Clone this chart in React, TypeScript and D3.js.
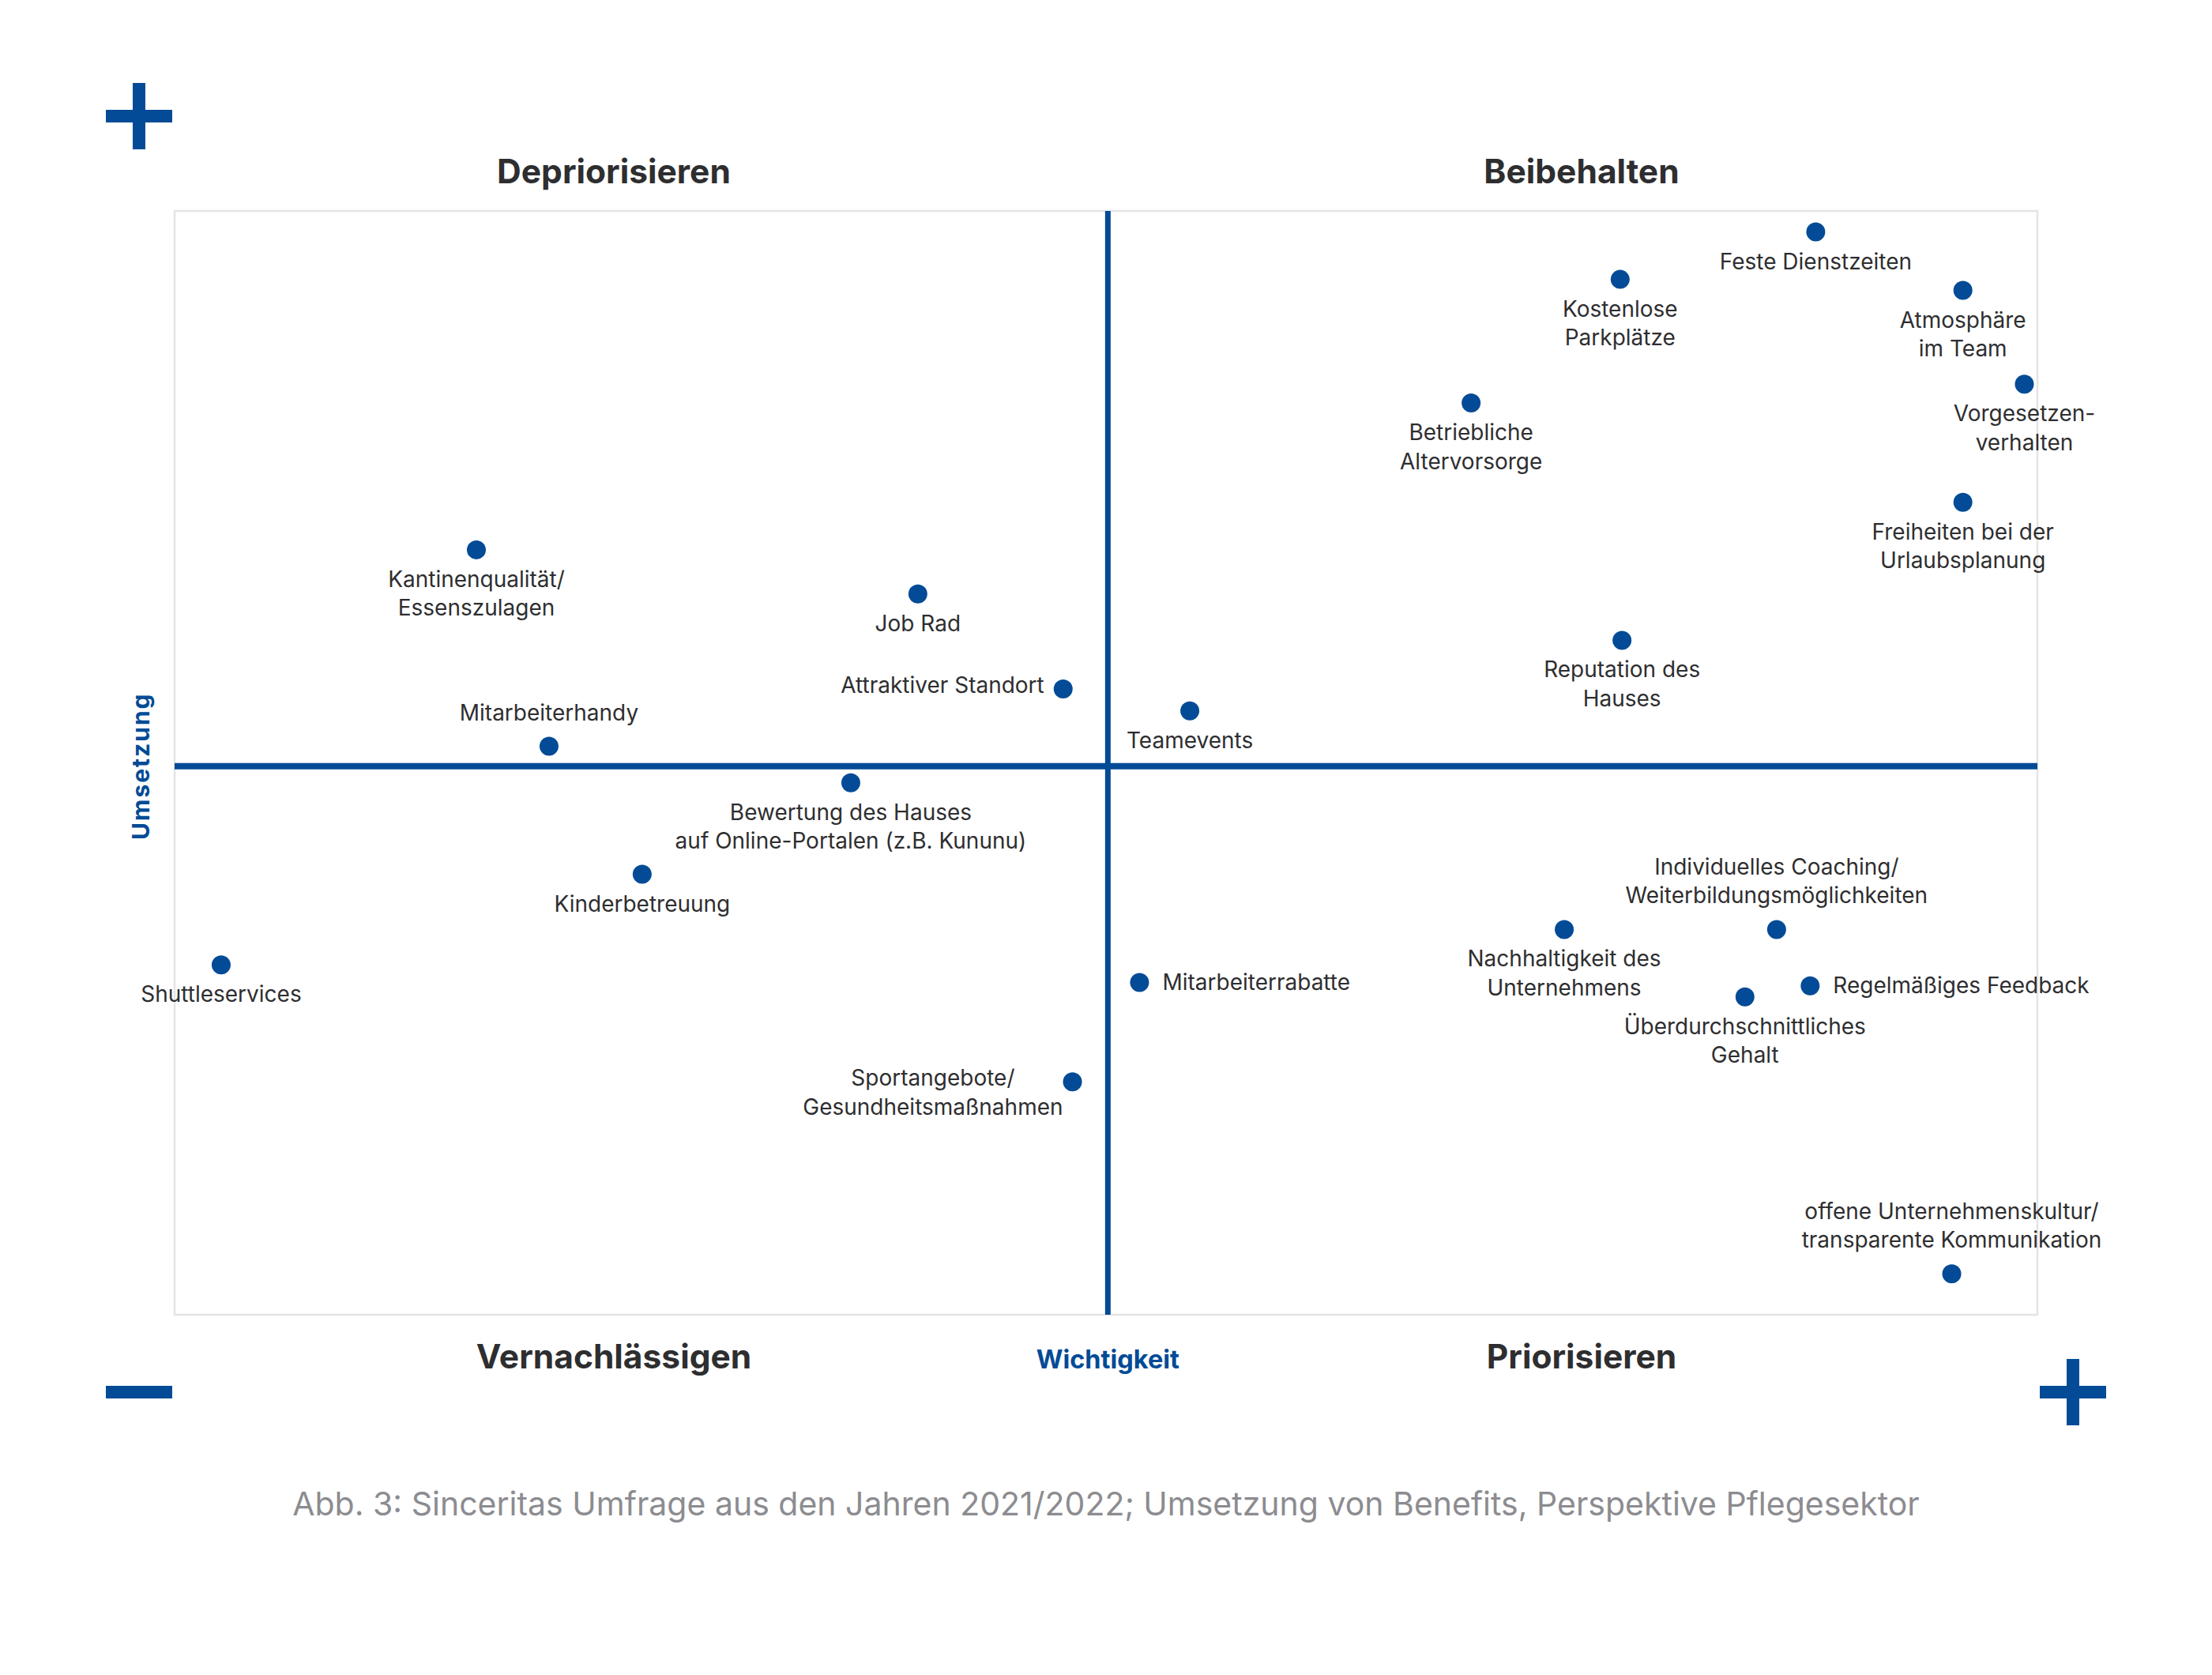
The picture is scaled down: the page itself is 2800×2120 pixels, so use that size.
import React, { useEffect, useRef } from 'react';
import * as d3 from 'd3';

// benefits: importance (x) vs. implementation (y), both on a 0-100 scale
const benefits = [
  'Feste Dienstzeiten',
  'Kostenlose\nParkplätze',
  'Atmosphäre\nim Team',
  'Vorgesetzen-\nverhalten',
  'Betriebliche\nAltervorsorge',
  'Freiheiten bei der\nUrlaubsplanung',
  'Reputation des\nHauses',
  'Teamevents',
  'Kantinenqualität/\nEssenszulagen',
  'Job Rad',
  'Attraktiver Standort',
  'Mitarbeiterhandy',
  'Bewertung des Hauses\nauf Online-Portalen (z.B. Kununu)',
  'Kinderbetreuung',
  'Shuttleservices',
  'Mitarbeiterrabatte',
  'Sportangebote/\nGesundheitsmaßnahmen',
  'Nachhaltigkeit des\nUnternehmens',
  'Individuelles Coaching/\nWeiterbildungsmöglichkeiten',
  'Regelmäßiges Feedback',
  'Überdurchschnittliches\nGehalt',
  'offene Unternehmenskultur/\ntransparente Kommunikation',
];
const wichtigkeit = [88.1, 77.6, 96.0, 99.3, 69.6, 96.0, 77.7, 54.5, 16.2, 39.9, 47.7, 20.1, 36.3, 25.1, 2.5, 51.8, 48.2, 74.6, 86.0, 87.8, 84.3, 95.4];
const umsetzung = [98.1, 93.8, 92.8, 84.3, 82.6, 73.6, 61.1, 54.7, 69.3, 65.3, 56.7, 51.5, 48.2, 39.9, 31.7, 30.1, 21.1, 34.9, 34.9, 29.8, 28.8, 3.7];
// which side of the dot each label sits on
const labelSide = ['below', 'below', 'below', 'below', 'below', 'below', 'below', 'below', 'below', 'below', 'left', 'above', 'below', 'below', 'below', 'right', 'left', 'below', 'above', 'right', 'below', 'above'];

// where the quadrant dividers cross
const midWichtigkeit = 50.1;
const midUmsetzung = 49.7;

const quadrantsTop = ['Depriorisieren', 'Beibehalten'];
const quadrantsBottom = ['Vernachlässigen', 'Priorisieren'];
const xTitle = 'Wichtigkeit';
const yTitle = 'Umsetzung';
const caption = 'Abb. 3: Sinceritas Umfrage aus den Jahren 2021/2022; Umsetzung von Benefits, Perspektive Pflegesektor';

const BLUE = '#034b96';
const TEXT = '#2e2e30';
const FONT = 'Inter, "Noto Sans", sans-serif';

function App() {
  const ref = useRef<SVGSVGElement>(null);

  useEffect(() => {
    const w = 2800;
    const h = 2120;
    const left = 221, right = 2579, top = 267, bottom = 1664;

    const svg = d3.select(ref.current);
    svg.selectAll('*').remove();
    svg.attr('width', w).attr('height', h);

    svg.append('rect').attr('width', w).attr('height', h).attr('fill', '#fff');

    const x = d3.scaleLinear().domain([0, 100]).range([left, right]);
    const y = d3.scaleLinear().domain([0, 100]).range([bottom, top]);

    // frame
    svg.append('rect')
      .attr('x', left).attr('y', top)
      .attr('width', right - left).attr('height', bottom - top)
      .attr('fill', 'none')
      .attr('stroke', '#e4e4e6')
      .attr('stroke-width', 2.5);

    // quadrant dividers
    svg.append('line')
      .attr('x1', x(midWichtigkeit)).attr('x2', x(midWichtigkeit))
      .attr('y1', top).attr('y2', bottom)
      .attr('stroke', BLUE).attr('stroke-width', 7);
    svg.append('line')
      .attr('x1', left).attr('x2', right)
      .attr('y1', y(midUmsetzung)).attr('y2', y(midUmsetzung))
      .attr('stroke', BLUE).attr('stroke-width', 8);

    // plus / minus markers at the corners
    const sign = (cx: number, cy: number, plus: boolean) => {
      svg.append('rect').attr('x', cx - 42).attr('y', cy - 8).attr('width', 84).attr('height', 16).attr('fill', BLUE);
      if (plus) svg.append('rect').attr('x', cx - 8).attr('y', cy - 42).attr('width', 16).attr('height', 84).attr('fill', BLUE);
    };
    sign(176, 147, true);
    sign(176, 1762, false);
    sign(2624, 1762, true);

    // quadrant titles
    const titleX = [777, 2002];
    quadrantsTop.forEach((t, i) => {
      svg.append('text').attr('x', titleX[i]).attr('y', 232)
        .attr('text-anchor', 'middle').attr('font-family', FONT)
        .attr('font-size', 42.5).attr('font-weight', 700).attr('fill', TEXT).text(t);
    });
    quadrantsBottom.forEach((t, i) => {
      svg.append('text').attr('x', titleX[i]).attr('y', 1732)
        .attr('text-anchor', 'middle').attr('font-family', FONT)
        .attr('font-size', 42.5).attr('font-weight', 700).attr('fill', TEXT).text(t);
    });

    // axis titles
    svg.append('text').attr('x', x(midWichtigkeit)).attr('y', 1732)
      .attr('text-anchor', 'middle').attr('font-family', FONT)
      .attr('font-size', 32.5).attr('font-weight', 700).attr('fill', BLUE).text(xTitle);
    svg.append('text')
      .attr('transform', 'translate(189,' + y(midUmsetzung) + ') rotate(-90)')
      .attr('text-anchor', 'middle').attr('font-family', FONT)
      .attr('font-size', 30).attr('font-weight', 700).attr('letter-spacing', 2)
      .attr('fill', BLUE).text(yTitle);

    // dots
    const data = benefits.map((name, i) => ({ name, wx: wichtigkeit[i], uy: umsetzung[i], side: labelSide[i] }));

    svg.append('g').selectAll('circle')
      .data(data)
      .enter()
      .append('circle')
      .attr('cx', d => x(d.wx))
      .attr('cy', d => y(d.uy))
      .attr('r', 12)
      .attr('fill', BLUE);

    // labels
    const lh = 36.5;
    const labels = svg.append('g')
      .attr('font-family', FONT).attr('font-size', 28).attr('fill', TEXT);

    data.forEach(d => {
      const cx = x(d.wx);
      const cy = y(d.uy);
      const lines = d.name.split('\n');
      const t = labels.append('text').attr('text-anchor', d.side === 'right' ? 'start' : 'middle');
      let tx = cx;
      let ty = cy + 47;
      if (d.side === 'above') ty = cy - 33 - (lines.length - 1) * lh;
      if (d.side === 'right') { tx = cx + 29; ty = cy + 9; }
      if (d.side === 'left') ty = cy + 5;
      const spans = lines.map((l, i) => t.append('tspan').attr('x', tx).attr('y', ty + i * lh).text(l));
      if (d.side === 'left') {
        const maxW = d3.max(spans, s => (s.node() as SVGTextContentElement).getComputedTextLength()) || 0;
        const gap = lines.length > 1 ? 12 : 24;
        spans.forEach(s => s.attr('x', cx - gap - maxW / 2));
      }
    });

    // caption
    svg.append('text').attr('x', 1400).attr('y', 1918)
      .attr('text-anchor', 'middle').attr('font-family', FONT)
      .attr('font-size', 41).attr('fill', '#8c8c90').text(caption);
  }, []);

  return (
    <div>
      <svg ref={ref} style={{ position: 'absolute', left: 0, top: 0, display: 'block' }} />
    </div>
  );
}

export default App;
